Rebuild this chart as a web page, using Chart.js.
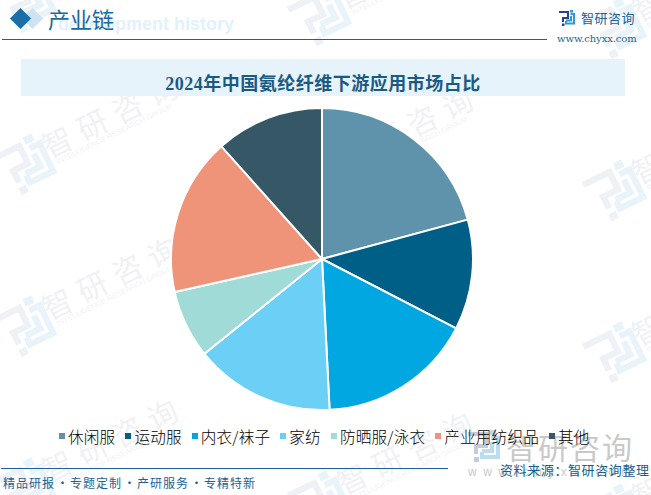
<!DOCTYPE html>
<html>
<head>
<meta charset="utf-8">
<script src="https://cdn.jsdelivr.net/npm/chart.js@4"></script>
<style>
  html, body { margin: 0; padding: 0; background: #fff; }
  #page { position: relative; width: 651px; height: 495px; overflow: hidden; font-family: "Noto Sans CJK SC", sans-serif; }
  #page > * { position: absolute; }
  .txt { white-space: nowrap; line-height: 1; }
  .mark { color: #f0f1f4; font-size: 30px; line-height: 30px; letter-spacing: 9px; transform-origin: 0 50%; transform: rotate(-26deg); white-space: nowrap; }
  .mark small { position: absolute; left: 6px; top: 31px; font: 7.5px/1 "Liberation Sans"; letter-spacing: 0; color: #f1f2f5; }
  .logo { --a: #2b3f8c; --b: #2a9bd8; }
  .logoMark { --a: #eef1f6; --b: #e9f4fa; transform: rotate(-26deg); }
  .logoBig { --a: #c4cbdc; --b: #bcdcf0; }
  #chart { left: 170px; top: 107px; }
  #legend { left: 59px; top: 427px; display: flex; font-size: 15.6px; line-height: 18px; font-weight: 300; letter-spacing: .2px; color: #000; white-space: nowrap; }
  #legend span { display: flex; align-items: center; margin-right: 10px; }
  #legend i { width: 6px; height: 6px; margin-right: 3px; }
  .sep { display: inline-block; width: 15px; text-align: center; letter-spacing: 0; }
</style>
</head>
<body>
<div id="page">
  <svg width="0" height="0">
    <symbol id="logo" viewBox="0 0 16 16">
      <path fill="none" stroke="var(--a)" stroke-width="2" d="M0 2H9V8H4V12"/>
      <path fill="var(--a)" d="M3 13.5h2.5v2.5H3z"/>
      <path fill="var(--b)" d="M11 0h3v2.5h-3z"/>
      <path fill="none" stroke="var(--b)" stroke-width="2" d="M11.5 4H15V13.5H7V11M7 10.5H12V6"/>
    </symbol>
  </svg>

  <div class="txt" style="left:58px;top:14px;font:bold 18px 'Liberation Sans';color:#e3f1fb">development history</div>
  <div style="left:25px;top:11px;width:15px;height:15px;background:#cfe2ef;transform:rotate(45deg)"></div>
  <div style="left:13px;top:11px;width:15px;height:15px;background:#1a6fa8;transform:rotate(45deg)"></div>
  <div class="txt" style="left:48px;top:7px;font-size:22px;color:#1a6a9c">产业链</div>
  <div style="left:2px;top:39px;width:545px;height:1px;background:#1a6394"></div>
  <svg class="logo" style="left:559px;top:10px" width="16" height="16"><use href="#logo"/></svg>
  <div class="txt" style="left:581px;top:11px;font-size:13px;letter-spacing:.5px;color:#1a6394">智研咨询</div>
  <div class="txt" style="left:557px;top:33px;font:10px 'DejaVu Serif';letter-spacing:-.1px;color:#1a6394">www.chyxx.com</div>

  <div style="left:21px;top:59px;width:604px;height:37px;background:#e6f3fb"></div>
  <div class="txt" style="left:21px;top:69px;width:604px;text-align:center;font:bold 18px 'Liberation Serif','Noto Sans CJK SC';letter-spacing:.5px;color:#1a5a85">2024年中国氨纶纤维下游应用市场占比</div>

  <svg class="logoBig" style="left:468px;top:430px" width="32" height="32"><use href="#logo"/></svg>
  <div class="txt" style="left:506px;top:431px;font-size:30px;letter-spacing:2px;color:#c9c9c9">智研咨询</div>
  <div class="txt" style="left:468px;top:465px;font:12px 'Liberation Sans';letter-spacing:6.5px;color:#c9c9c9">www.chyxx.com</div>

  <canvas id="chart" width="304" height="304"></canvas>
  <div id="legend"></div>

  <div style="left:1px;top:468px;width:447px;height:1px;background:#1a6394"></div>
  <div class="txt" style="left:3px;top:477px;font-size:12px;letter-spacing:1px;color:#1a6394">精品研报<span class="sep">·</span>专题定制<span class="sep">·</span>产研服务<span class="sep">·</span>专精特新</div>
  <div class="txt" style="left:500px;top:463px;font-size:13px;letter-spacing:.6px;color:#14608f">资料来源：智研咨询整理</div>
</div>

<script>
const categories = ["休闲服", "运动服", "内衣/袜子", "家纺", "防晒服/泳衣", "产业用纺织品", "其他"];
const shares = [20.8, 11.8, 16.6, 15.0, 7.3, 16.9, 11.6];
const colors = ["#5f93ab", "#005f87", "#00a7e0", "#6ccff6", "#a0dbd8", "#ef9379", "#355766"];

// background watermark: logo + name, repeated
const page = document.getElementById("page");
const addMark = (x, y) => {
  const logo = document.createElementNS("http://www.w3.org/2000/svg", "svg");
  logo.setAttribute("class", "logoMark");
  logo.setAttribute("width", "52");
  logo.setAttribute("height", "52");
  logo.style.left = (x - 26) + "px";
  logo.style.top = (y - 26) + "px";
  logo.innerHTML = '<use href="#logo"/>';
  page.prepend(logo);

  const text = document.createElement("div");
  text.className = "mark";
  text.innerHTML = "智研咨询<small>INTELLIGENCE RESEARCH GROUP</small>";
  text.style.left = (x + 18) + "px";
  text.style.top = (y - 33) + "px";
  page.prepend(text);
};
for (let col = 0; col < 3; col++) {
  for (let row = -1; row < 3; row++) {
    addMark(25 + col * 295, 165 + col * 13 + row * 162);
  }
}

// legend built from the same arrays as the pie
document.getElementById("legend").innerHTML = categories
  .map((name, i) => `<span><i style="background:${colors[i]}"></i>${name}</span>`)
  .join("");

new Chart(document.getElementById("chart"), {
  type: "pie",
  data: {
    labels: categories,
    datasets: [{ data: shares, backgroundColor: colors, borderColor: "#fff", borderWidth: 2 }]
  },
  options: {
    responsive: false,
    animation: false,
    devicePixelRatio: 1,
    plugins: {
      tooltip: { enabled: false },
      legend: { display: false }
    }
  }
});
</script>
</body>
</html>
